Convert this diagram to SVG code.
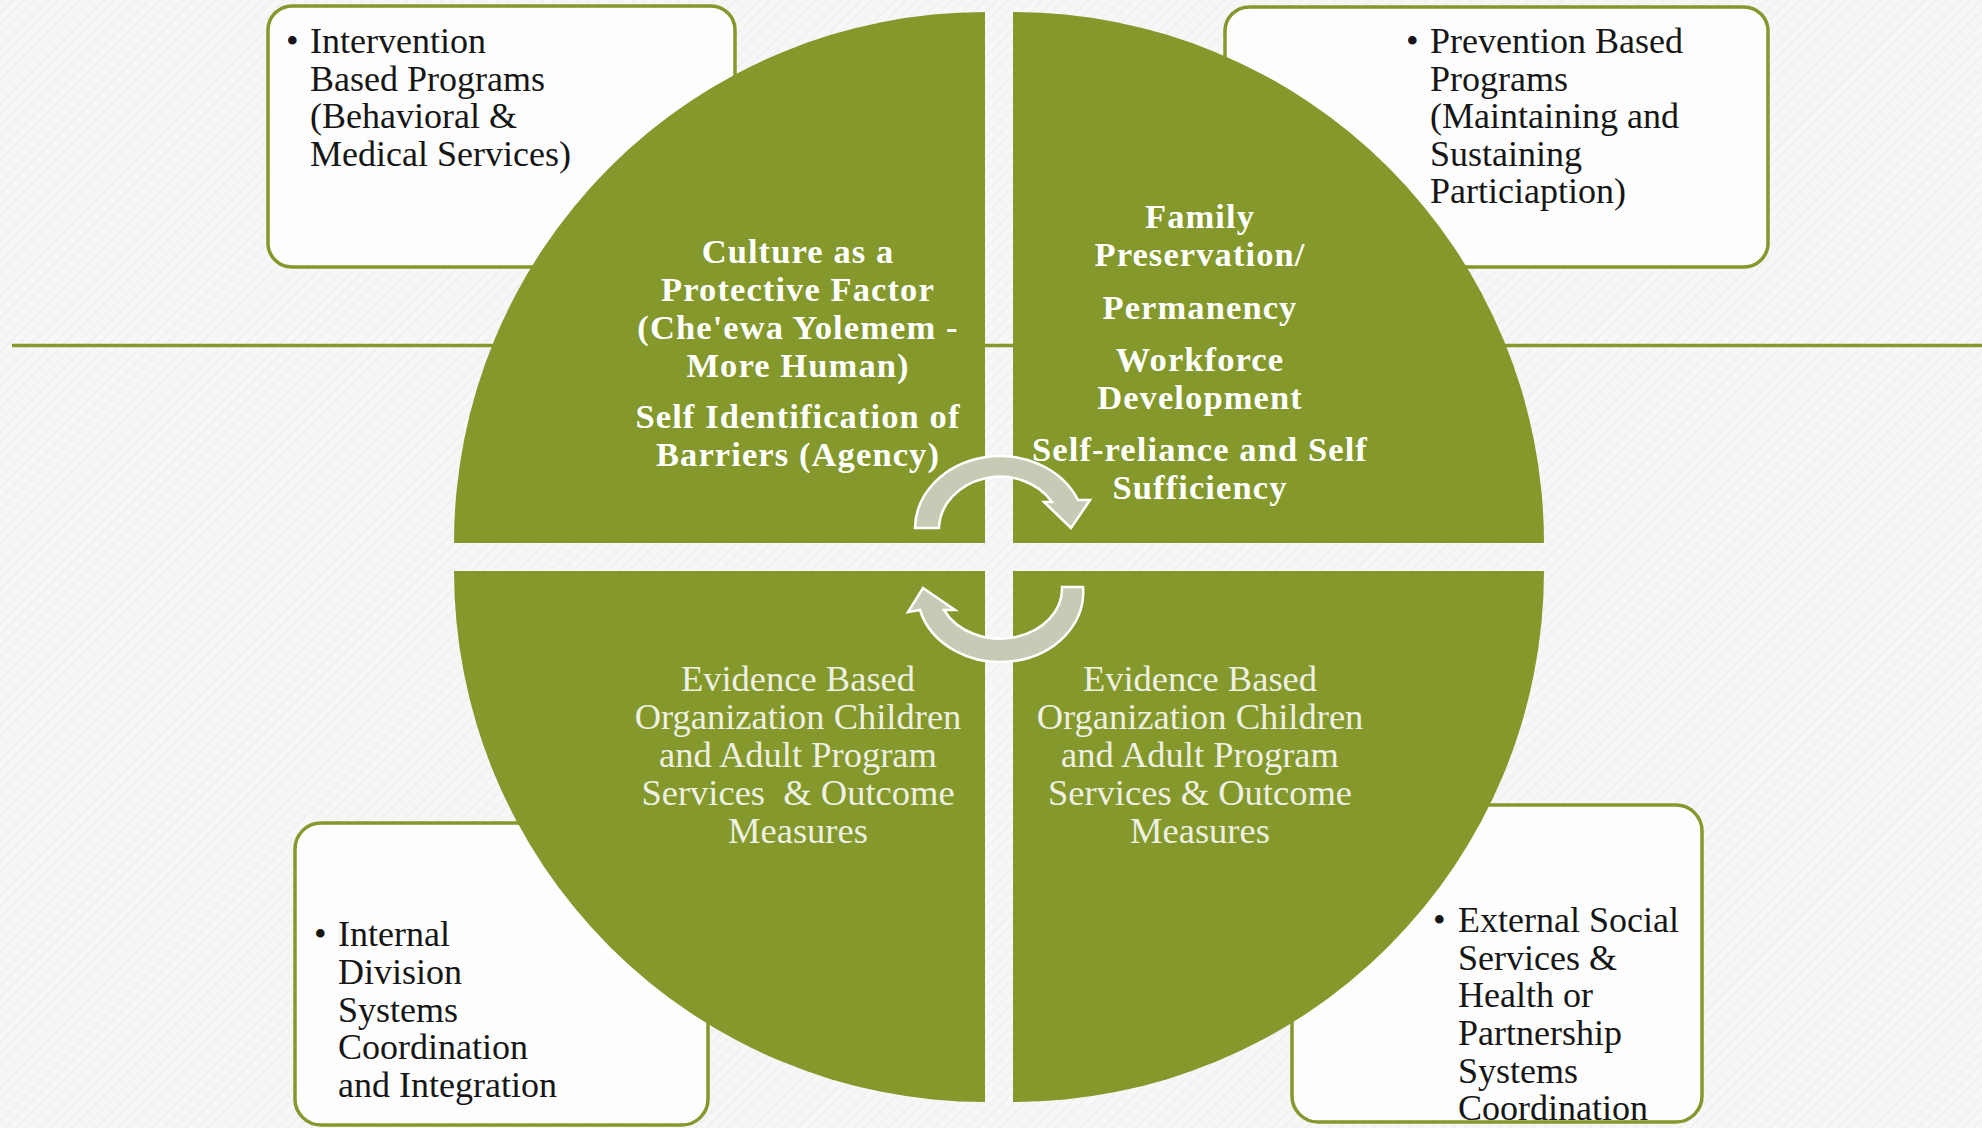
<svg xmlns="http://www.w3.org/2000/svg" width="1982" height="1128" viewBox="0 0 1982 1128">
<defs>
<pattern id="tex" width="8" height="8" patternUnits="userSpaceOnUse" patternTransform="rotate(45)">
<rect width="8" height="8" fill="#f7f7f7"/>
<rect width="2" height="8" fill="#f1f1f1"/>
</pattern>
<style>
.bg{fill:url(#tex)}
.hline{stroke:#84982c;stroke-width:3.5}
.box{fill:#fdfdfd;stroke:#84982c;stroke-width:3.5}
.quad{fill:#84982c}
.arrow{fill:#c6cbb6;stroke:#ffffff;stroke-width:2.5;stroke-linejoin:miter}
.bt{font-family:"Liberation Serif","Times New Roman",serif;font-size:36px;fill:#161616}
.qb{font-family:"Liberation Serif","Times New Roman",serif;font-size:34.5px;font-weight:bold;fill:#ffffff;text-anchor:middle;letter-spacing:1.1px}
.qr{font-family:"Liberation Serif","Times New Roman",serif;font-size:36.5px;fill:#eef0e2;text-anchor:middle}
</style>
</defs>
<rect class="bg" x="0" y="0" width="1982" height="1128"/>
<line class="hline" x1="12" y1="345.5" x2="1982" y2="345.5"/>

<g id="box-intervention">
<rect class="box" x="268" y="6" width="467" height="261" rx="24"/>
<text class="bt" x="286" y="53">•</text>
<text class="bt" x="310" y="53">Intervention</text>
<text class="bt" x="310" y="91">Based Programs</text>
<text class="bt" x="310" y="128">(Behavioral &amp;</text>
<text class="bt" x="310" y="166">Medical Services)</text>
</g>

<g id="box-prevention">
<rect class="box" x="1225" y="7" width="543" height="260" rx="24"/>
<text class="bt" x="1406" y="53">•</text>
<text class="bt" x="1430" y="53">Prevention Based</text>
<text class="bt" x="1430" y="91">Programs</text>
<text class="bt" x="1430" y="128">(Maintaining and</text>
<text class="bt" x="1430" y="166">Sustaining</text>
<text class="bt" x="1430" y="203">Particiaption)</text>
</g>

<g id="box-internal">
<rect class="box" x="295" y="823" width="413" height="302" rx="26"/>
<text class="bt" x="314" y="946">•</text>
<text class="bt" x="338" y="946">Internal</text>
<text class="bt" x="338" y="984">Division</text>
<text class="bt" x="338" y="1022">Systems</text>
<text class="bt" x="338" y="1059">Coordination</text>
<text class="bt" x="338" y="1097">and Integration</text>
</g>

<g id="box-external">
<rect class="box" x="1292" y="805" width="410" height="317" rx="26"/>
<text class="bt" x="1433" y="932">•</text>
<text class="bt" x="1458" y="932">External Social</text>
<text class="bt" x="1458" y="970">Services &amp;</text>
<text class="bt" x="1458" y="1007">Health or</text>
<text class="bt" x="1458" y="1045">Partnership</text>
<text class="bt" x="1458" y="1083">Systems</text>
<text class="bt" x="1458" y="1120">Coordination</text>
</g>

<g id="quad-culture">
<path class="quad" d="M985 543 L454 543 A531 531 0 0 1 985 12 Z"/>
<text class="qb" x="798" y="263">Culture as a</text>
<text class="qb" x="798" y="301">Protective Factor</text>
<text class="qb" x="798" y="339">(Che'ewa Yolemem -</text>
<text class="qb" x="798" y="377">More Human)</text>
<text class="qb" x="798" y="428">Self Identification of</text>
<text class="qb" x="798" y="466">Barriers (Agency)</text>
</g>

<g id="quad-family">
<path class="quad" d="M1013 543 L1013 12 A531 531 0 0 1 1544 543 Z"/>
<text class="qb" x="1200" y="228">Family</text>
<text class="qb" x="1200" y="266">Preservation/</text>
<text class="qb" x="1200" y="319">Permanency</text>
<text class="qb" x="1200" y="371">Workforce</text>
<text class="qb" x="1200" y="409">Development</text>
<text class="qb" x="1200" y="461">Self-reliance and Self</text>
<text class="qb" x="1200" y="499">Sufficiency</text>
</g>

<g id="quad-evidence-left">
<path class="quad" d="M985 571 L985 1102 A531 531 0 0 1 454 571 Z"/>
<text class="qr" x="798" y="691">Evidence Based</text>
<text class="qr" x="798" y="729">Organization Children</text>
<text class="qr" x="798" y="767">and Adult Program</text>
<text class="qr" x="798" y="805" xml:space="preserve">Services  &amp; Outcome</text>
<text class="qr" x="798" y="843">Measures</text>
</g>

<g id="quad-evidence-right">
<path class="quad" d="M1013 571 L1544 571 A531 531 0 0 1 1013 1102 Z"/>
<text class="qr" x="1200" y="691">Evidence Based</text>
<text class="qr" x="1200" y="729">Organization Children</text>
<text class="qr" x="1200" y="767">and Adult Program</text>
<text class="qr" x="1200" y="805">Services &amp; Outcome</text>
<text class="qr" x="1200" y="843">Measures</text>
</g>

<g id="connectors">
<path class="arrow" d="M915 528 A85 73 0 0 1 1078 500 L1090 500 L1071 528 L1044 502 L1052 502 A61 53 0 0 0 939 528 Z"/>
<path class="arrow" d="M1083 587 A83 70 0 0 1 920 610 L908 612 L923 588 L955 610 L944 610 A62 50 0 0 0 1062 587 Z"/>
</g>
</svg>
